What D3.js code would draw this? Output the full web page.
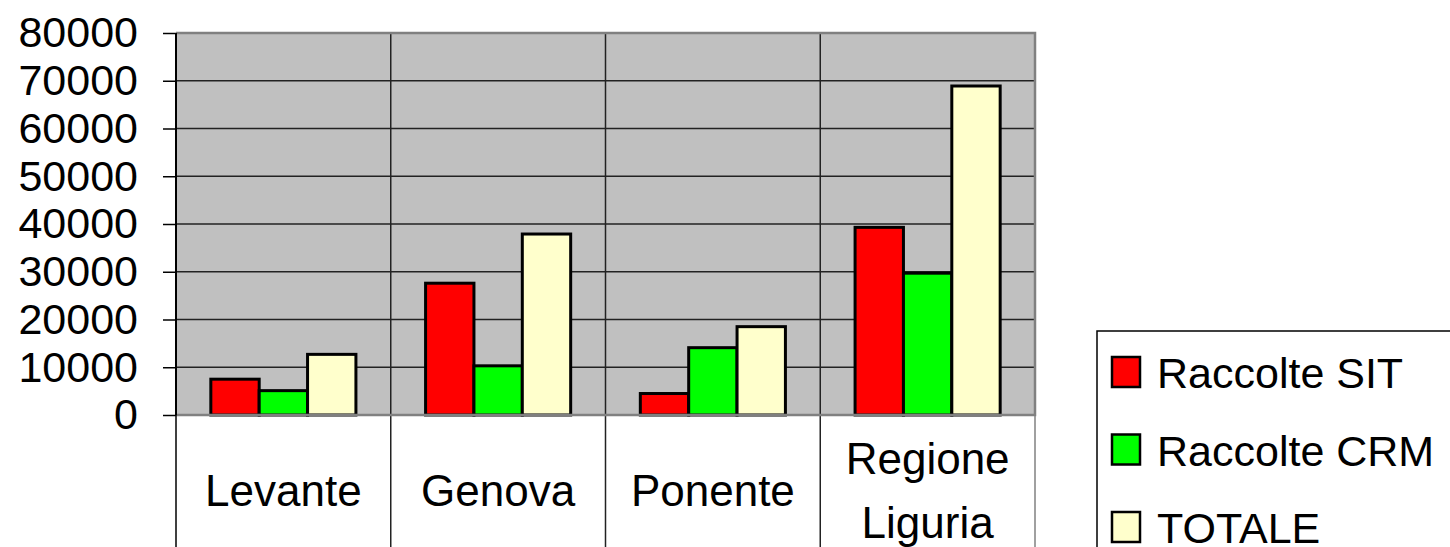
<!DOCTYPE html>
<html lang="it">
<head>
  <meta charset="UTF-8">
  <title>Raccolte</title>
  <style>
    body { margin: 0; background: #fff; }
    svg { display: block; font-family: Arial, "Liberation Sans", sans-serif; }
  </style>
</head>
<body>
  <svg width="1450" height="547"></svg>
  <script src="https://cdn.jsdelivr.net/npm/d3@7/dist/d3.min.js"></script>
  <script>
    // data
    var categories = ['Levante', 'Genova', 'Ponente', 'Regione Liguria'];
    var series = ['Raccolte SIT', 'Raccolte CRM', 'TOTALE'];
    var raccolteSIT = [7500, 27600, 4500, 39300];
    var raccolteCRM = [5100, 10300, 14100, 29700];
    var totale = [12700, 37900, 18500, 68900];
    var yTicks = [0, 10000, 20000, 30000, 40000, 50000, 60000, 70000, 80000];
    var colors = ['#ff0000', '#00ff00', '#ffffcc'];

    var values = [raccolteSIT, raccolteCRM, totale];
    var plot = { left: 176, right: 1035, top: 33, bottom: 415 };

    var svg = d3.select('svg');

    var x0 = d3.scaleBand()
      .domain(categories)
      .range([plot.left, plot.right])
      .padding(0);
    var x1 = d3.scaleBand()
      .domain(series)
      .range([0, x0.bandwidth()])
      .paddingInner(0)
      .paddingOuter(0.72);
    var y = d3.scaleLinear()
      .domain([0, 80000])
      .range([plot.bottom, plot.top]);

    // plot background
    svg.append('rect')
      .attr('x', plot.left).attr('y', plot.top)
      .attr('width', plot.right - plot.left)
      .attr('height', plot.bottom - plot.top)
      .attr('fill', '#c0c0c0');

    // horizontal gridlines
    svg.append('g')
      .selectAll('line')
      .data(yTicks.slice(1))
      .join('line')
      .attr('x1', plot.left).attr('x2', plot.right)
      .attr('y1', d => y(d)).attr('y2', d => y(d))
      .attr('stroke', '#222')
      .attr('stroke-width', 1.5);

    // category separators, running below the plot
    svg.append('g')
      .selectAll('line')
      .data(categories.slice(1))
      .join('line')
      .attr('x1', d => x0(d)).attr('x2', d => x0(d))
      .attr('y1', plot.top).attr('y2', 547)
      .attr('stroke', '#222')
      .attr('stroke-width', 1.5);

    // bars
    var groups = svg.append('g')
      .selectAll('g')
      .data(categories)
      .join('g')
      .attr('transform', d => 'translate(' + x0(d) + ',0)');

    groups.selectAll('rect')
      .data((c, i) => series.map((s, j) => ({ s: s, v: values[j][i], c: colors[j] })))
      .join('rect')
      .attr('x', d => x1(d.s))
      .attr('y', d => y(d.v))
      .attr('width', x1.bandwidth())
      .attr('height', d => y(0) - y(d.v))
      .attr('fill', d => d.c)
      .attr('stroke', '#000')
      .attr('stroke-width', 3);

    // plot border (grey top/right/bottom)
    svg.append('path')
      .attr('d', 'M' + plot.left + ',' + plot.top + 'H' + plot.right + 'V' + plot.bottom + 'H' + plot.left)
      .attr('fill', 'none')
      .attr('stroke', '#808080')
      .attr('stroke-width', 2.5);
    svg.append('line')
      .attr('x1', plot.right).attr('x2', plot.right)
      .attr('y1', plot.bottom).attr('y2', 547)
      .attr('stroke', '#808080')
      .attr('stroke-width', 1.5);
    svg.append('line')
      .attr('x1', plot.left).attr('x2', plot.left)
      .attr('y1', plot.bottom).attr('y2', 547)
      .attr('stroke', '#000')
      .attr('stroke-width', 1.5);

    // y axis
    var yAxis = d3.axisLeft(y)
      .tickValues(yTicks)
      .tickFormat(d3.format('d'))
      .tickSize(13)
      .tickPadding(25);
    var gy = svg.append('g')
      .attr('transform', 'translate(' + plot.left + ',0)')
      .call(yAxis);
    gy.select('.domain')
      .attr('d', 'M0,' + plot.top + 'V' + plot.bottom)
      .attr('stroke', '#000')
      .attr('stroke-width', 2);
    gy.selectAll('.tick line').attr('stroke', '#000').attr('stroke-width', 1.5);
    gy.selectAll('.tick text')
      .attr('font-size', 43)
      .attr('font-family', 'Arial, "Liberation Sans", sans-serif')
      .attr('fill', '#000');

    // category labels
    var labels = svg.append('g')
      .selectAll('text')
      .data(categories)
      .join('text')
      .attr('x', d => x0(d) + x0.bandwidth() / 2)
      .attr('y', 506)
      .attr('text-anchor', 'middle')
      .attr('font-size', 44)
      .attr('fill', '#000');
    labels.each(function (d) {
      var words = d.split(' ');
      var t = d3.select(this);
      var cx = x0(d) + x0.bandwidth() / 2;
      if (words.length > 1) {
        words.forEach((w, i) => {
          t.append('tspan')
            .attr('x', cx)
            .attr('y', 506 + (i - (words.length - 1) / 2) * 64)
            .text(w);
        });
      } else {
        t.text(d);
      }
    });

    // legend
    var legend = svg.append('g');
    legend.append('rect')
      .attr('x', 1097).attr('y', 331)
      .attr('width', 400).attr('height', 300)
      .attr('fill', '#fff')
      .attr('stroke', '#000')
      .attr('stroke-width', 1.5);
    var items = legend.selectAll('g')
      .data(series)
      .join('g')
      .attr('transform', (d, i) => 'translate(1112,' + (357 + i * 77.5) + ')');
    items.append('rect')
      .attr('width', 28).attr('height', 30)
      .attr('fill', (d, i) => colors[i])
      .attr('stroke', '#000')
      .attr('stroke-width', 2.5);
    items.append('text')
      .attr('x', 45).attr('y', 31)
      .attr('font-size', 43)
      .attr('fill', '#000')
      .text(d => d);
  </script>
</body>
</html>
